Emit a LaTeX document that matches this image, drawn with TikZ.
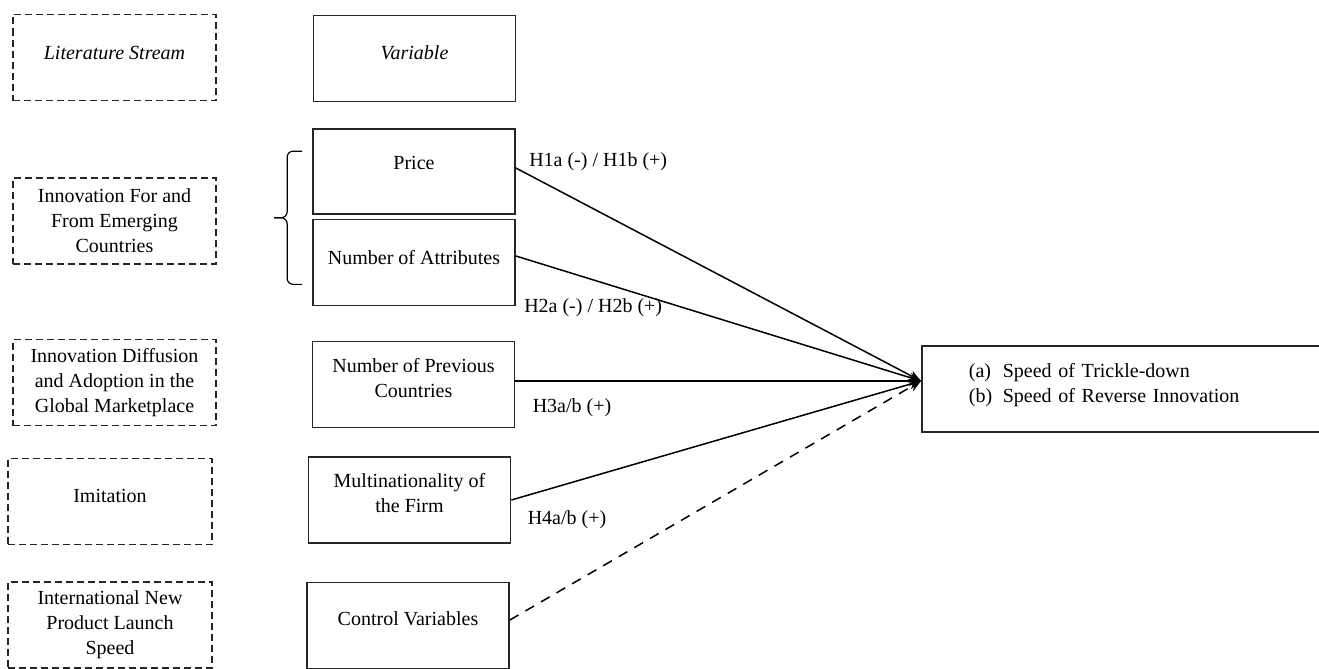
\documentclass[tikz,border=0pt]{standalone}
\usepackage{fontspec}
\setmainfont{Liberation Serif}
\usepackage{tikz}
\usetikzlibrary{arrows.meta,positioning,calc}
\tikzset{%
   litbox/.style={draw=black!85, dash pattern=on 3.5pt off 2pt, line width=0.75pt, minimum width=101.5pt, minimum height=43pt, align=center, inner sep=1pt},
   varbox/.style={draw=black!85, line width=0.85pt, minimum width=101pt, minimum height=43pt, align=center, text depth=7pt, inner sep=1pt},
   hyp/.style={inner sep=0pt},
   arr/.style={line width=0.75pt, -{Stealth[length=6pt,width=5pt]}},
}

\begin{document}
\begin{tikzpicture}[x=0.5pt, y=-0.5pt, font=\fontsize{10}{12.5}\selectfont]
   \useasboundingbox (0,0) rectangle (1319,669);
   % literature streams
   \node[litbox, text depth=4.5pt] (l0) at (114.5,57.5) {\itshape Literature Stream};
   \node[litbox] (l1) at (114.5,221) {Innovation For and\\From Emerging\\Countries};
   \node[litbox] (l2) at (114.5,382.5) {Innovation Diffusion\\and Adoption in the\\Global Marketplace};
   \node[litbox, minimum width=102pt, text depth=5.5pt] (l3) at (110,501.5) {Imitation};
   \node[litbox, minimum width=102pt] (l4) at (110,625) {International New\\Product Launch\\Speed};
   % variables
   \node[varbox, text depth=5.5pt] (v0) at (414.5,58.5) {\itshape Variable};
   \node[varbox, text depth=8.5pt, minimum height=42.5pt] (v1) at (414,171.5) {Price};
   \node[varbox, text depth=5.5pt] (v2) at (414,262.5) {Number of Attributes};
   \node[varbox] (v3) at (413.5,384.5) {Number of Previous\\Countries};
   \node[varbox] (v4) at (409.5,500) {Multinationality of\\the Firm};
   \node[varbox] (v5) at (408,625.5) {Control Variables};
   \node[varbox, anchor=west, align=left, text width=153.5pt, inner xsep=23.5pt, text depth=19pt] (out) at (921,389)
      {\makebox[17pt][l]{(a)}Speed of Trickle-down\\\makebox[17pt][l]{(b)}Speed of Reverse Innovation};
   % brace
   \coordinate (bt) at ([xshift=-5pt, yshift=-11.5pt]v1.north west);
   \coordinate (bb) at ([xshift=-5pt, yshift=11pt]v2.south west);
   \coordinate (bm) at ($(bt)!0.5!(bb)+(-14pt,0)$);
   \draw[line width=0.6pt, rounded corners=3pt] (bt) -- ++(-7.5pt,0) |- (bm);
   \draw[line width=0.6pt, rounded corners=3pt] (bb) -- ++(-7.5pt,0) |- (bm);
   % hypotheses
   \coordinate (hub) at ([yshift=4pt]out.west);
   \draw[arr] ([yshift=1.75pt]v1.east) -- (hub);
   \draw[arr] ([yshift=3.25pt]v2.east) -- (hub);
   \draw[arr] ([yshift=1.75pt]v3.east) -- (hub);
   \draw[arr] (v4.east) -- (hub);
   \draw[arr, dash pattern=on 5pt off 4pt] ([yshift=2.75pt]v5.east) -- (hub);
   \node[hyp, right=6.5pt of v1.east, yshift=4.75pt] (h1) {H1a (-) / H1b (+)};
   \node[hyp, right=4pt of v2.east, yshift=-22.75pt] (h2) {H2a (-) / H2b (+)};
   \node[hyp, right=8.5pt of v3.east, yshift=-11.75pt] (h3) {H3a/b (+)};
   \node[hyp, right=8pt of v4.east, yshift=-10pt] (h4) {H4a/b (+)};
\end{tikzpicture}
\end{document}
